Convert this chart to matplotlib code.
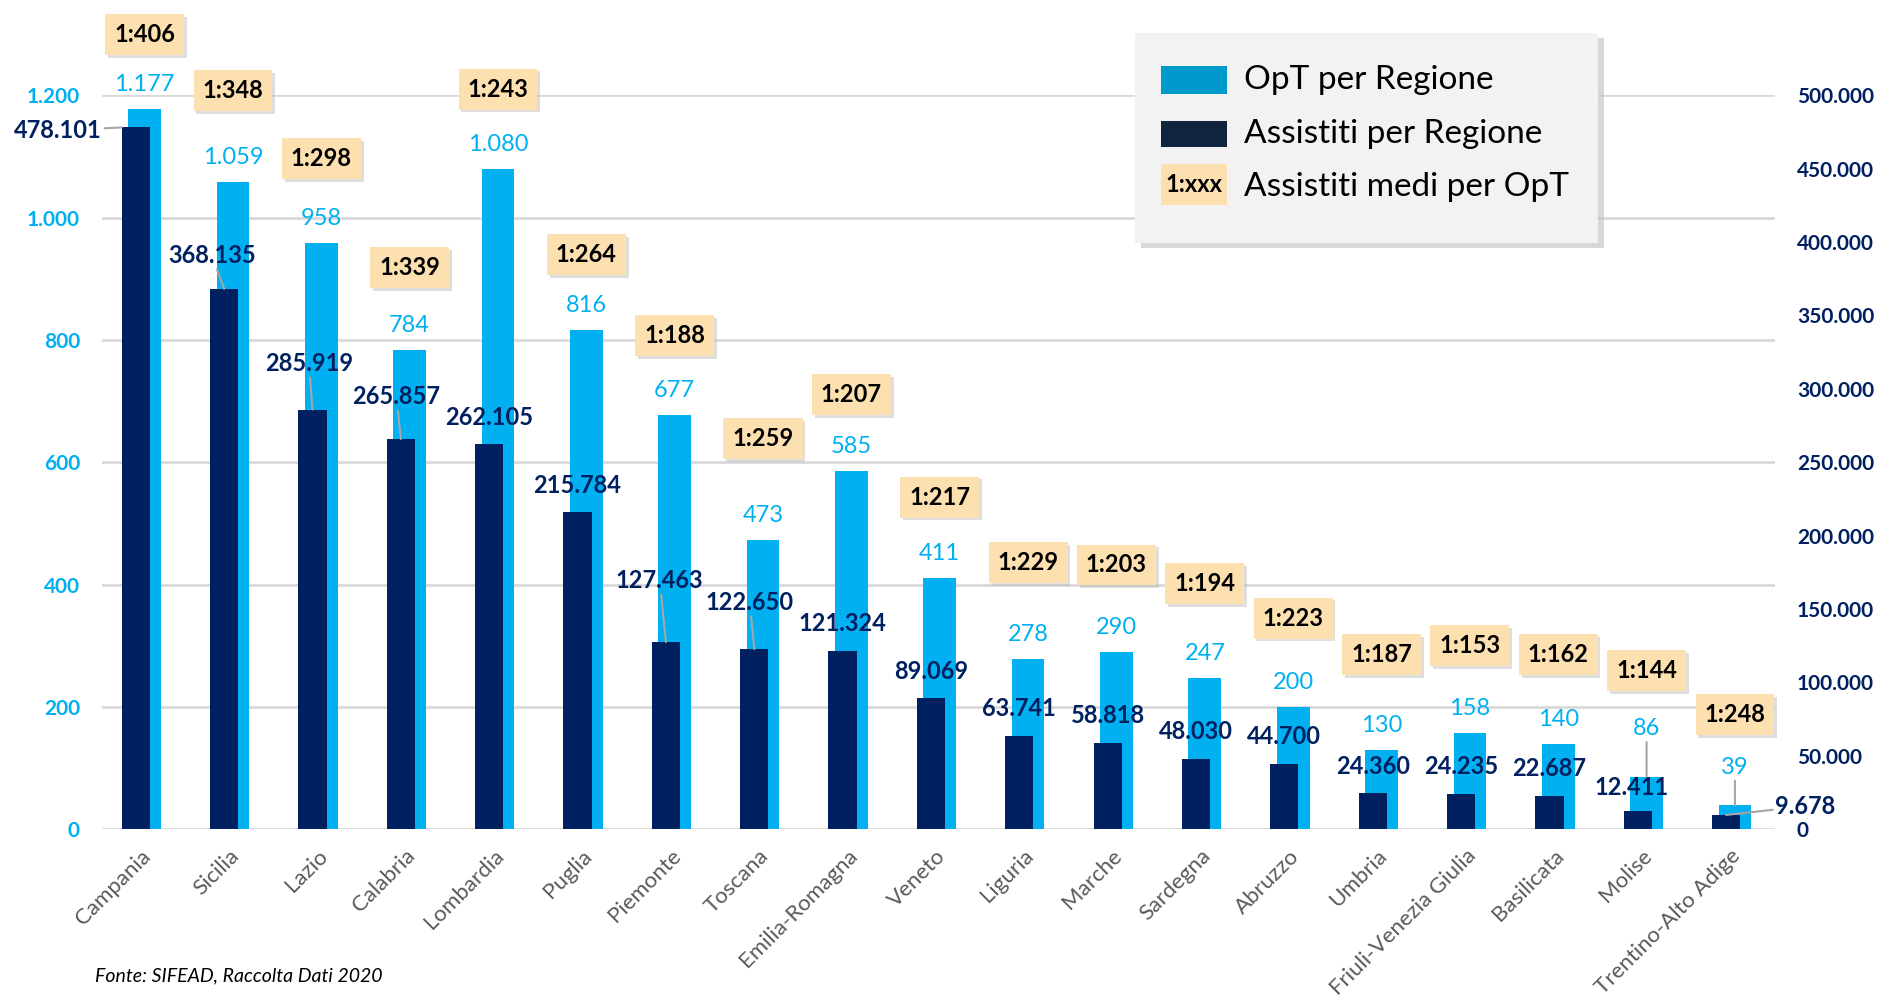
import numpy as np
import matplotlib.pyplot as plt
from matplotlib.patches import Rectangle
from matplotlib.ticker import FuncFormatter
from matplotlib.transforms import offset_copy

plt.rcParams['font.family'] = ['Lato', 'DejaVu Sans']

## data
regioni = ["Campania", "Sicilia", "Lazio", "Calabria", "Lombardia", "Puglia",
           "Piemonte", "Toscana", "Emilia-Romagna", "Veneto", "Liguria", "Marche",
           "Sardegna", "Abruzzo", "Umbria", "Friuli-Venezia Giulia", "Basilicata",
           "Molise", "Trentino-Alto Adige"]
opt = [1177, 1059, 958, 784, 1080, 816, 677, 473, 585, 411, 278, 290, 247, 200,
       130, 158, 140, 86, 39]
assistiti = [478101, 368135, 285919, 265857, 262105, 215784, 127463, 122650,
             121324, 89069, 63741, 58818, 48030, 44700, 24360, 24235, 22687,
             12411, 9678]
rapporto = ["1:406", "1:348", "1:298", "1:339", "1:243", "1:264", "1:188", "1:259",
            "1:207", "1:217", "1:229", "1:203", "1:194", "1:223", "1:187", "1:153",
            "1:162", "1:144", "1:248"]

## label placement tweaks (offset of ratio boxes above the OpT bar, left-axis units)
box_dy = [122, 149, 139, 134, 130, 123, 130, 166, 126, 132, 158, 142, 154, 145,
          156, 142, 146, 173, 148]
# dark labels moved away from default spot: idx -> (dx, dy in right-axis units)
dark_special = {0: (-0.88, -2000), 1: (-0.14, 23000), 2: (-0.04, 31500),
                3: (-0.05, 29000), 6: (-0.07, 42000), 7: (-0.05, 32000),
                17: (-0.07, 16000), 18: (0.90, 6000)}
dark_leader = [0, 1, 2, 3, 6, 7, 18]
light_special = {17: 78, 18: 62}

C_LIGHT = "#00B0F0"
C_DARK = "#002060"
C_BOX = "#FDE0B0"
C_GRID = "#D9D9D9"

def fmt_it(v, pos=None):
    return "{:,.0f}".format(v).replace(",", ".")

fig = plt.figure(figsize=(18.93, 9.99), dpi=100)
ax = fig.add_axes([0.054, 0.170, 0.8835, 0.7346])
ax2 = ax.twinx()

x = np.arange(len(regioni))
ax.bar(x + 0.05, opt, width=0.37, color=C_LIGHT, zorder=2)
ax2.bar(x - 0.05, assistiti, width=0.32, color=C_DARK, zorder=2)

ax.set_ylim(0, 1200)
ax2.set_ylim(0, 500000)
ax.set_xlim(-0.43, 18.5)
ax.set_yticks(np.arange(0, 1201, 200))
ax2.set_yticks(np.arange(0, 500001, 50000))
ax.yaxis.set_major_formatter(FuncFormatter(fmt_it))
ax2.yaxis.set_major_formatter(FuncFormatter(fmt_it))
ax.grid(axis="y", color=C_GRID, lw=2, zorder=0)
ax.set_axisbelow(True)
for a in (ax, ax2):
    for s in a.spines.values():
        s.set_visible(False)
    a.tick_params(length=0)
ax.tick_params(axis="y", labelsize=15, labelcolor=C_LIGHT, pad=16)
ax2.tick_params(axis="y", labelsize=15, labelcolor=C_DARK, pad=16)
for t in ax.get_yticklabels():
    t.set_fontweight("bold")
for t in ax2.get_yticklabels():
    t.set_fontweight("bold")

ax.set_xticks(x)
ax.set_xticklabels(regioni, rotation=45, ha="right", rotation_mode="anchor",
                   fontsize=16, color="#595959")
ax.tick_params(axis="x", pad=12)

# light (OpT) labels
for i, v in enumerate(opt):
    dy = light_special.get(i, 40)
    if i in light_special:
        ax2.annotate(fmt_it(v), xy=(i + 0.05, v), xycoords=ax.transData,
                     xytext=(i + 0.05, v + dy), textcoords=ax.transData,
                     ha="center", va="center", fontsize=17, color=C_LIGHT,
                     arrowprops=dict(arrowstyle="-", color="#A6A6A6", lw=1.5,
                                     shrinkA=0, shrinkB=0), zorder=5)
    else:
        ax2.text(i + 0.05, v + dy, fmt_it(v), transform=ax.transData,
                 ha="center", va="center", fontsize=17, color=C_LIGHT, zorder=5)

# dark (Assistiti) labels
for i, v in enumerate(assistiti):
    dx, dy = dark_special.get(i, (0, 18600))
    if i in dark_leader:
        ax2.annotate(fmt_it(v), xy=(i - 0.05 - (0.16 if i == 0 else 0), v),
                     xytext=(i - 0.05 + dx, v + dy),
                     ha="center", va="center", fontsize=17, fontweight="bold",
                     color=C_DARK,
                     arrowprops=dict(arrowstyle="-", color="#A6A6A6", lw=1.5,
                                     shrinkA=0, shrinkB=0), zorder=5)
    else:
        ax2.text(i - 0.05 + dx, v + dy, fmt_it(v), ha="center", va="center",
                 fontsize=17, fontweight="bold", color=C_DARK, zorder=5)

# ratio boxes (with a soft shadow)
shadow_tr = offset_copy(ax.transData, fig=fig, x=2, y=-2, units="points")
for i, r in enumerate(rapporto):
    ax2.text(i + 0.05, opt[i] + box_dy[i], r, transform=shadow_tr,
             ha="center", va="center", fontsize=17, fontweight="bold", color="none",
             bbox=dict(boxstyle="square,pad=0.38", fc="#BFBFBF", ec="none", alpha=0.5),
             zorder=6)
    ax2.text(i + 0.05, opt[i] + box_dy[i], r, transform=ax.transData,
             ha="center", va="center", fontsize=17, fontweight="bold", color="black",
             bbox=dict(boxstyle="square,pad=0.38", fc=C_BOX, ec="none"), zorder=7)

# legend (drawn by hand)
fig.patches.append(Rectangle((0.6025, 0.752), 0.2449, 0.210, transform=fig.transFigure,
                             fc="#BFBFBF", ec="none", alpha=0.6, zorder=9))
fig.patches.append(Rectangle((0.5995, 0.757), 0.2449, 0.210, transform=fig.transFigure,
                             fc="#F2F2F2", ec="none", zorder=10))
fig.patches.append(Rectangle((0.6135, 0.906), 0.0345, 0.0276, transform=fig.transFigure,
                             fc="#0099CC", ec="none", zorder=11))
fig.patches.append(Rectangle((0.6135, 0.853), 0.0345, 0.0263, transform=fig.transFigure,
                             fc="#10243E", ec="none", zorder=11))
fig.patches.append(Rectangle((0.6135, 0.795), 0.0345, 0.0410, transform=fig.transFigure,
                             fc=C_BOX, ec="none", zorder=11))
fig.text(0.6307, 0.8155, "1:xxx", ha="center", va="center", fontsize=17,
         fontweight="bold", zorder=12)
fig.text(0.657, 0.920, "OpT per Regione", va="center", fontsize=24, zorder=12)
fig.text(0.657, 0.866, "Assistiti per Regione", va="center", fontsize=24, zorder=12)
fig.text(0.657, 0.8128, "Assistiti medi per OpT", va="center", fontsize=24, zorder=12)

fig.text(0.05, 0.018, "Fonte: SIFEAD, Raccolta Dati 2020", fontsize=14, style="italic")

fig.savefig("out.png", dpi=100)
